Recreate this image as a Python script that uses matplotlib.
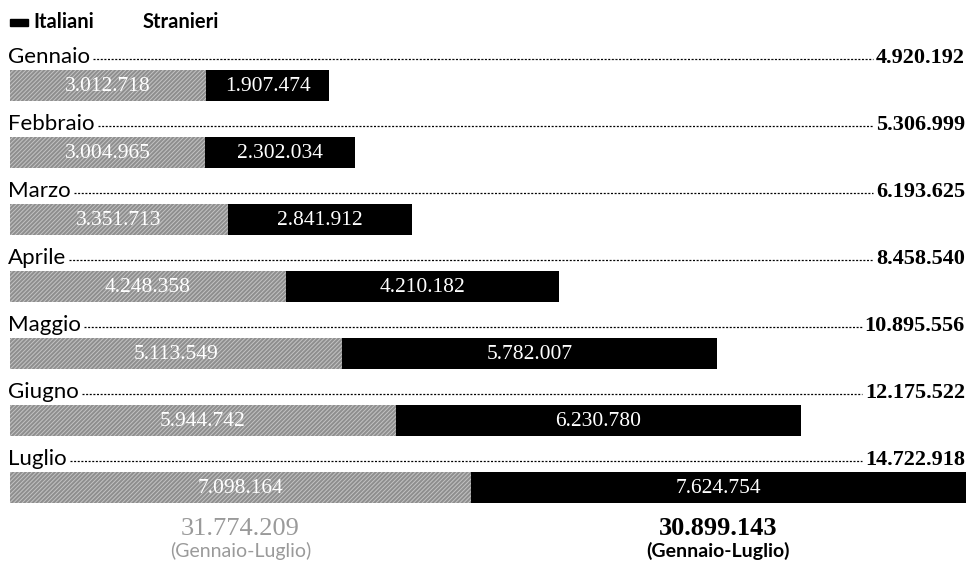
import matplotlib.pyplot as plt
from matplotlib.patches import Rectangle

mesi = ['Gennaio', 'Febbraio', 'Marzo', 'Aprile', 'Maggio', 'Giugno', 'Luglio']
italiani = [3012718, 3004965, 3351713, 4248358, 5113549, 5944742, 7098164]
stranieri = [1907474, 2302034, 2841912, 4210182, 5782007, 6230780, 7624754]
periodo = '(Gennaio-Luglio)'


def fmt(v):
    return f'{v:,}'.replace(',', '.')


totali = [a + b for a, b in zip(italiani, stranieri)]
tot_ita = sum(italiani)
tot_str = sum(stranieri)

W, H = 968, 563
SANS = ['Lato', 'DejaVu Sans']
SERIF = ['Liberation Serif', 'DejaVu Serif']
GRIGIO = '#9a9a9a'

plt.rcParams['hatch.linewidth'] = 0.7

fig = plt.figure(figsize=(W / 100, H / 100), dpi=100)
ax = fig.add_axes([0, 0, 1, 1])
ax.axis('off')

# pixel layout: value 0 at x=10px, max total at ~966px; rows every 67px
scale = (966 - 10) / max(totali)
ax.set_xlim(-10 / scale, (W - 10) / scale)
ax.set_ylim((H - 85.5) / 67, -85.5 / 67)

rows = list(range(len(mesi)))
bh = 31 / 67

ax.barh(rows, italiani, height=bh, color='#8e8e8e', edgecolor='#c4c4c4',
        hatch='////////', linewidth=0)
ax.barh(rows, stranieri, left=italiani, height=bh, color='black', linewidth=0)

trans_lbl = ax.get_yaxis_transform()  # x in axes fraction, y in data
lab_off = -0.335
labels = []
nums = []
for i in rows:
    a, b = italiani[i], stranieri[i]
    ax.text(a / 2, i + 0.02, fmt(a), ha='center', va='center', color='white',
            fontsize=15.5, family=SERIF)
    ax.text(a + b / 2, i + 0.02, fmt(b), ha='center', va='center',
            color='white', fontsize=15.5, family=SERIF)
    labels.append(ax.text(8 / W, i + lab_off, mesi[i], transform=trans_lbl,
                          ha='left', va='baseline', fontsize=16, family=SANS))
    nums.append(ax.text(965 / W, i + lab_off, fmt(totali[i]),
                        transform=trans_lbl, ha='right', va='baseline',
                        fontsize=16, fontweight='bold', family=SERIF))

# bottom totals, centred under the last bar's segments
last = rows[-1]
ax.text(italiani[last] / 2, last + 0.71, fmt(tot_ita), ha='center',
        va='baseline', fontsize=19, color=GRIGIO, family=SERIF)
ax.text(italiani[last] / 2, last + 1.04, periodo, ha='center',
        va='baseline', fontsize=14, color=GRIGIO, family=SANS)
ax.text(italiani[last] + stranieri[last] / 2, last + 0.71, fmt(tot_str),
        ha='center', va='baseline', fontsize=19, fontweight='bold',
        family=SERIF)
ax.text(italiani[last] + stranieri[last] / 2, last + 1.04, periodo,
        ha='center', va='baseline', fontsize=14, fontweight='bold',
        family=SANS)

# legend
fig.patches.append(Rectangle((10 / W, 1 - 26 / H), 18 / W, 7 / H,
                             transform=fig.transFigure, color='black'))
fig.text(33 / W, 1 - 28 / H, 'Italiani', fontsize=14.5, fontweight='bold',
         family=SANS, va='baseline')
fig.text(143 / W, 1 - 28 / H, 'Stranieri', fontsize=14.5,
         fontweight='bold', family=SANS, va='baseline')

# dotted leaders between month label and total
fig.canvas.draw()
r = fig.canvas.get_renderer()
inv = ax.transAxes.inverted()
for i in rows:
    x0 = labels[i].get_window_extent(r).x1 + 3
    x1 = nums[i].get_window_extent(r).x0 - 3
    fx0 = inv.transform((x0, 0))[0]
    fx1 = inv.transform((x1, 0))[0]
    ax.plot([fx0, fx1], [i + lab_off - 0.06] * 2, transform=trans_lbl,
            color='black', lw=0.9, ls=(0, (1.6, 1.3)))

fig.savefig('out.png', dpi=100)
